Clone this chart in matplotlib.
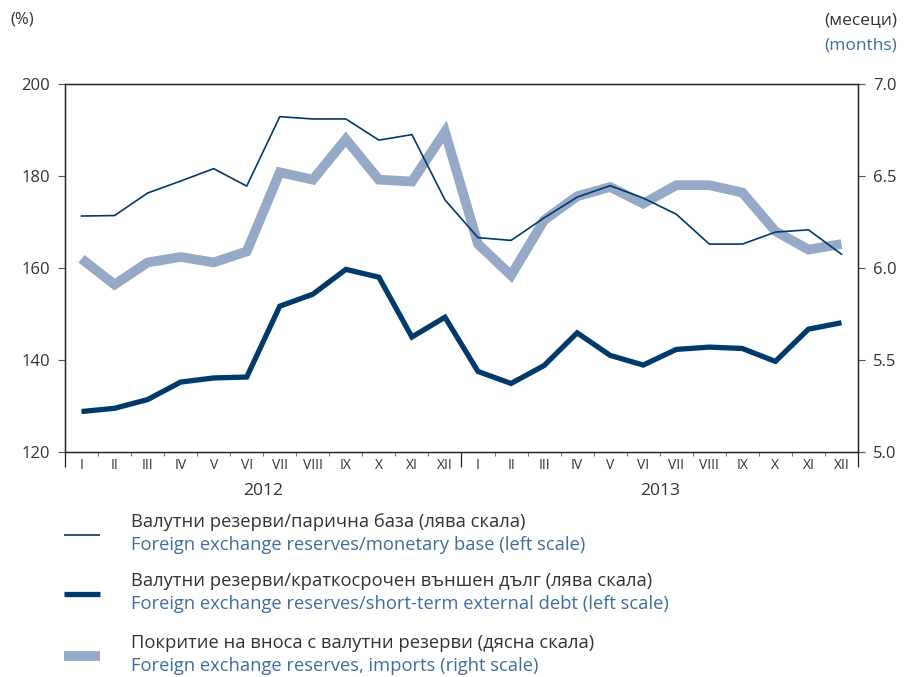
import matplotlib.pyplot as plt
from matplotlib.lines import Line2D
from matplotlib.ticker import FixedLocator

plt.rcParams['font.family'] = ['Open Sans', 'DejaVu Sans']

MONTHS = ["I", "II", "III", "IV", "V", "VI", "VII", "VIII", "IX", "X", "XI", "XII"]
YEARS = ["2012", "2013"]

# reserves / monetary base (left scale, %)
monetary_base = [171.3, 171.4, 176.3, 178.9, 181.6, 177.8, 192.9, 192.4, 192.4, 187.8, 189.0, 174.8,
                 166.6, 166.0, 170.9, 175.4, 177.9, 175.2, 171.7, 165.2, 165.2, 167.8, 168.3, 163.0]
# reserves / short-term external debt (left scale, %)
st_debt = [128.8, 129.5, 131.4, 135.2, 136.1, 136.3, 151.7, 154.3, 159.7, 158.0, 145.0, 149.3,
           137.5, 134.9, 138.8, 145.9, 141.0, 138.9, 142.3, 142.8, 142.5, 139.7, 146.7, 148.1]
# import coverage (right scale, months)
imports = [6.05, 5.91, 6.03, 6.06, 6.03, 6.09, 6.52, 6.48, 6.70, 6.48, 6.47, 6.74,
           6.13, 5.96, 6.26, 6.39, 6.44, 6.35, 6.45, 6.45, 6.41, 6.20, 6.10, 6.13]

DARK = '#003a6b'
LIGHT = '#96a9c7'
GREY = '#333333'
BLUE = '#3f6e9c'

x = list(range(len(monetary_base)))

fig = plt.figure(figsize=(9.07, 6.77), dpi=100)
ax = fig.add_axes([65 / 907, 1 - 452 / 677, (858 - 65) / 907, (452 - 84) / 677])
ax2 = ax.twinx()
ax.set_zorder(ax2.get_zorder() + 1)
ax.patch.set_visible(False)

ax2.plot(x, imports, color=LIGHT, lw=7, solid_joinstyle='miter', solid_capstyle='butt')
ax.plot(x, st_debt, color=DARK, lw=3.8, solid_joinstyle='miter', solid_capstyle='butt')
ax.plot(x, monetary_base, color=DARK, lw=1.2)

ax.set_xlim(-0.5, len(x) - 0.5)
ax.set_ylim(120, 200)
ax2.set_ylim(5.0, 7.0)
ax.set_yticks([120, 140, 160, 180, 200])
ax2.set_yticks([5.0, 5.5, 6.0, 6.5, 7.0])
ax2.set_yticklabels(["5.0", "5.5", "6.0", "6.5", "7.0"])

for a in (ax, ax2):
    for s in a.spines.values():
        s.set_color('#222222')
        s.set_linewidth(0.9)
ax.tick_params(axis='y', direction='out', length=5, width=0.8, color='#555555',
               labelsize=12, labelcolor=GREY, pad=6)
ax2.tick_params(axis='y', direction='out', length=5, width=0.8, color='#555555',
                labelsize=12, labelcolor=GREY, pad=6)

# x axis: year boundary ticks long, month boundary ticks short
ax.set_xticks([-0.5, 11.5, 23.5])
ax.set_xticklabels([])
ax.xaxis.set_minor_locator(FixedLocator([i + 0.5 for i in range(23) if i != 11]))
ax.tick_params(axis='x', which='major', direction='out', length=11, width=0.9, color='#222222')
ax.tick_params(axis='x', which='minor', direction='out', length=3, width=0.8, color='#777777')
ax2.tick_params(axis='x', which='both', length=0)

for i in x:
    ax.text(i, -0.037, MONTHS[i % 12], transform=ax.get_xaxis_transform(),
            ha='center', va='center', fontsize=10, color=GREY)
for k, yr in enumerate(YEARS):
    ax.text(5.5 + 12 * k, -0.105, yr, transform=ax.get_xaxis_transform(),
            ha='center', va='center', fontsize=12.5, color=GREY)

fig.text(10 / 907, 1 - 20 / 677, "(%)", fontsize=12, color=GREY, va='center')
fig.text(897 / 907, 1 - 20 / 677, "(месеци)", fontsize=12.5, color=GREY, va='center', ha='right')
fig.text(897 / 907, 1 - 46 / 677, "(months)", fontsize=12.5, color=BLUE, va='center', ha='right')

legend_items = [
    ("Валутни резерви/парична база (лява скала)",
     "Foreign exchange reserves/monetary base (left scale)", DARK, 1.2, 535),
    ("Валутни резерви/краткосрочен външен дълг (лява скала)",
     "Foreign exchange reserves/short-term external debt (left scale)", DARK, 3.8, 594),
    ("Покритие на вноса с валутни резерви (дясна скала)",
     "Foreign exchange reserves, imports (right scale)", LIGHT, 7, 656),
]
for bg, en, col, lw, ypix in legend_items:
    yy = 1 - ypix / 677
    fig.add_artist(Line2D([64 / 907, 100 / 907], [yy, yy], color=col, lw=lw,
                          solid_capstyle='butt', transform=fig.transFigure))
    fig.text(131 / 907, 1 - (ypix - 13) / 677, bg, fontsize=13.2, color=GREY, va='center')
    fig.text(131 / 907, 1 - (ypix + 10) / 677, en, fontsize=13.2, color=BLUE, va='center')

fig.savefig('out.png', dpi=100)
